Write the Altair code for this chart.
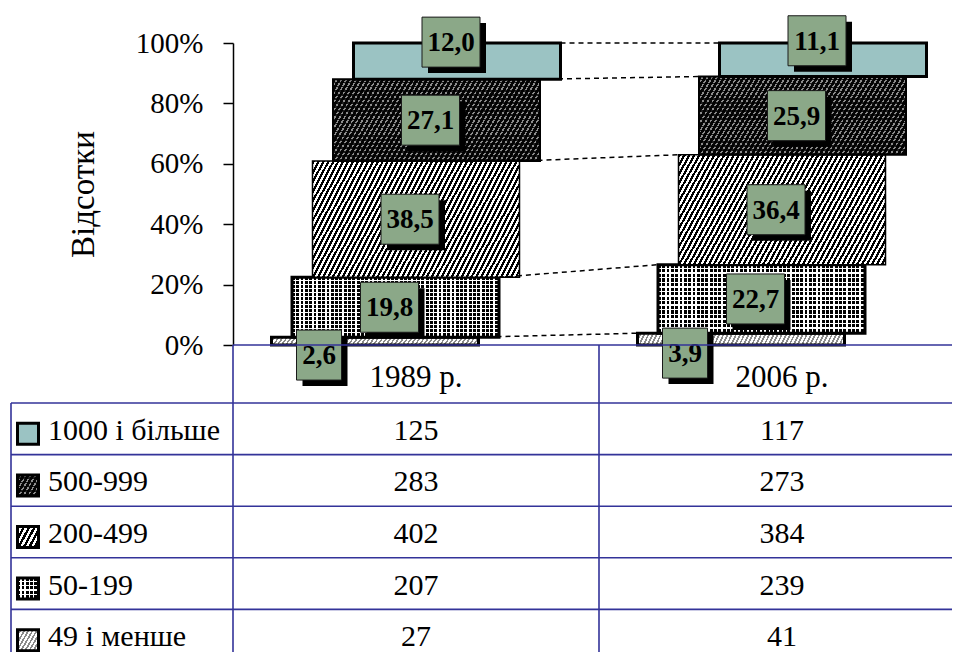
import math
import altair as alt
import pandas as pd

# ---------------- data ----------------
years = ["1989 р.", "2006 р."]
# stacking order: bottom -> top
categories = ["49 і менше", "50-199", "200-499", "500-999", "1000 і більше"]
pct_1989 = [2.6, 19.8, 38.5, 27.1, 12.0]
pct_2006 = [3.9, 22.7, 36.4, 25.9, 11.1]
count_1989 = [27, 207, 402, 283, 125]
count_2006 = [41, 239, 384, 273, 117]
y_ticks = [0, 20, 40, 60, 80, 100]
y_title = "Відсотки"

# ---------------- layout / style constants ----------------
PAD_LEFT = 225
PLOT_W = 944 - PAD_LEFT
PLOT_H = 644
COL_PX = 366                       # pixels per year column
Y0_PX, Y100_PX = 337, 35           # 0% and 100% inside the plot
PX_PER_PCT = (Y0_PX - Y100_PX) / 100
TABLE_TOP = 395
ROW_H = 51.6
SHIFT = 20.5 / COL_PX              # pseudo-3D shift of each stacked segment
HALF = 103.5 / COL_PX              # half bar width
TABLE_LEFT = -0.5 - 222 / COL_PX
HEADER_TOP = (Y0_PX - TABLE_TOP) / ROW_H
FONT = "Liberation Serif"
LINE_BLUE = "#333399"
LABEL_GREEN = "#8BA888"

XS = alt.Scale(domain=[-0.5, 1.5], range=[0, 2 * COL_PX], nice=False, zero=False)
YS = alt.Scale(domain=[0, 100], range=[Y0_PX, Y100_PX], nice=False, zero=False)
TS = alt.Scale(domain=[0, 5], range=[TABLE_TOP, TABLE_TOP + 5 * ROW_H], nice=False, zero=False)


def stripes(W, H, angle, period, bands):
    th = math.radians(angle)
    a = math.sin(th) / H
    b = math.cos(th) / W
    c = (a + b) / (a * a + b * b)
    L = W * math.sin(th) + H * math.cos(th)
    n = max(1, round(L / period))
    stops = []
    for k in range(n):
        acc = 0.0
        for color, frac in bands:
            s = (k + acc) / n
            e = (k + acc + frac) / n
            stops.append({"offset": round(s, 4), "color": color})
            stops.append({"offset": round(e, 4), "color": color})
            acc += frac
    return {"gradient": "linear", "x1": 0, "y1": 0,
            "x2": round(c * a, 5), "y2": round(c * b, 5), "stops": stops}


def pattern(cat, W, H):
    if cat == "1000 і більше":
        return ["#9BC3C3"]
    if cat == "500-999":
        return [stripes(W, H, 60, 4.2, [("#050505", 0.62), ("#8c8c8c", 0.38)]),
                stripes(W, H, 0, 4.0, [("rgba(0,0,0,0)", 0.6), ("rgba(0,0,0,0.8)", 0.4)])]
    if cat == "200-499":
        return [stripes(W, H, 62, 4.4, [("#000000", 0.5), ("#ffffff", 0.5)])]
    if cat == "50-199":
        return [stripes(W, H, 90, 4.3, [("#000000", 0.66), ("#ffffff", 0.34)]),
                stripes(W, H, 0, 4.3, [("rgba(255,255,255,0)", 0.7), ("#ffffff", 0.3)])]
    return [stripes(W, H, 60, 3.6, [("#ffffff", 0.55), ("#8a8a8a", 0.45)])]


STROKE_W = {"1000 і більше": 3, "500-999": 2, "200-499": 1.5, "50-199": 3, "49 і менше": 3}
LABEL_OFF = {"49 і менше": (-56, 14), "1000 і більше": (-6, -19)}
WIDE = "M-1.16,-1L1.16,-1L1.16,1L-1.16,1Z"
NARROW = "M-0.9,-1L0.9,-1L0.9,1L-0.9,1Z"

# ---------------- tables built from the arrays ----------------
pcts = [pct_1989, pct_2006]
counts = [count_1989, count_2006]
n = len(categories)
MID = (n - 1) / 2

seg_rows = []
for yi, yr in enumerate(years):
    base = 0.0
    for ci, cat in enumerate(categories):
        v = pcts[yi][ci]
        seg_rows.append({"year": yr, "yi": yi, "cat": cat, "ci": ci, "pct": v,
                         "y0": base, "y1": base + v})
        base += v
segs = pd.DataFrame(seg_rows)

conn = pd.DataFrame({
    "ci": list(range(n)),
    "ya": list(segs[segs.yi == 0].y1.values),
    "yb": list(segs[segs.yi == 1].y1.values),
})

trow = pd.DataFrame({"cat": categories[::-1], "r": list(range(n))})
cells = pd.DataFrame([{"r": r, "yi": yi, "val": counts[yi][n - 1 - r]}
                      for r in range(n) for yi in range(len(years))])
header = pd.DataFrame({"year": years, "yi": list(range(len(years)))})

col_bounds = [k - 0.5 for k in range(len(years) + 1)]
right_edge = col_bounds[-1]
hl = pd.DataFrame({"r": [HEADER_TOP] + list(range(n + 1)),
                   "x0": [col_bounds[0]] + [TABLE_LEFT] * (n + 1)})
hl["x1"] = right_edge
vl = pd.DataFrame({"xv": [TABLE_LEFT] + col_bounds,
                   "ytop": [0.0] + [HEADER_TOP] * len(col_bounds)})
vl["ybot"] = n + 0.6

# ---------------- layers ----------------
layers = []

bar_base = alt.Chart(segs).transform_calculate(
    xc=f"datum.yi + (datum.ci - {MID}) * {SHIFT}"
).transform_calculate(
    xl=f"datum.xc - {HALF}",
    xr=f"datum.xc + {HALF}",
    mid="(datum.y0 + datum.y1) / 2",
    lab="replace(format(datum.pct, '.1f'), '.', ',')",
)

axis = alt.Axis(values=y_ticks, labelExpr="datum.value + '%'", grid=False,
                domainColor="black", domainWidth=1.5, tickColor="black", tickWidth=1.5,
                tickSize=10, labelPadding=20, labelFont=FONT, labelFontSize=29,
                labelColor="black", titleFont=FONT, titleFontSize=33,
                titleFontWeight="normal", titleColor="black", titlePadding=35)

first = True
for ci, cat in enumerate(categories):
    sub = bar_base.transform_filter(alt.datum.cat == cat)
    hpx = (pct_1989[ci] + pct_2006[ci]) / 2 * PX_PER_PCT
    for f in pattern(cat, 2 * HALF * COL_PX, hpx):
        yenc = alt.Y("y0:Q", scale=YS, axis=axis if first else None,
                     title=y_title if first else None)
        first = False
        layers.append(sub.mark_rect(fill=f, strokeWidth=0).encode(
            x=alt.X("xl:Q", scale=XS, axis=None), x2="xr:Q", y=yenc, y2="y1:Q"))
    layers.append(sub.mark_rect(fill="transparent", stroke="black",
                                strokeWidth=STROKE_W[cat]).encode(
        x=alt.X("xl:Q", scale=XS, axis=None), x2="xr:Q",
        y=alt.Y("y0:Q", scale=YS, axis=None), y2="y1:Q"))

# dashed series lines
layers.append(alt.Chart(conn).transform_calculate(
    xa=f"(datum.ci - {MID}) * {SHIFT} + {HALF}",
    xb=f"1 + (datum.ci - {MID}) * {SHIFT} - {HALF}",
).mark_rule(color="black", strokeWidth=1.5, strokeDash=[5, 4]).encode(
    x=alt.X("xa:Q", scale=XS, axis=None), x2="xb:Q",
    y=alt.Y("ya:Q", scale=YS, axis=None), y2="yb:Q"))

# data labels
shape = alt.condition("length(datum.lab) > 3", alt.value(WIDE), alt.value(NARROW))
for cat in categories:
    dx, dy = LABEL_OFF.get(cat, (-6, 0))
    sub = bar_base.transform_filter(alt.datum.cat == cat)
    enc = dict(x=alt.X("xc:Q", scale=XS, axis=None), y=alt.Y("mid:Q", scale=YS, axis=None))
    layers.append(sub.mark_point(filled=True, fill="black", strokeWidth=0, opacity=1,
                                 size=2500, xOffset=dx + 6, yOffset=dy + 6).encode(shape=shape, **enc))
    layers.append(sub.mark_point(filled=True, fill=LABEL_GREEN, stroke="#1a1a1a", strokeWidth=1,
                                 opacity=1, size=2500, xOffset=dx, yOffset=dy).encode(shape=shape, **enc))
    layers.append(sub.mark_text(font=FONT, fontSize=27, fontWeight="bold", color="black",
                                align="center", baseline="middle", dx=dx, dy=dy + 1).encode(
        text="lab:N", **enc))

# table grid
layers.append(alt.Chart(hl).mark_rule(color=LINE_BLUE, strokeWidth=1.6).encode(
    x=alt.X("x0:Q", scale=XS, axis=None), x2="x1:Q",
    y=alt.Y("r:Q", scale=TS, axis=None)))
layers.append(alt.Chart(vl).mark_rule(color=LINE_BLUE, strokeWidth=1.6).encode(
    x=alt.X("xv:Q", scale=XS, axis=None),
    y=alt.Y("ytop:Q", scale=TS, axis=None), y2="ybot:Q"))

# header
layers.append(alt.Chart(header).transform_calculate(yc=f"{HEADER_TOP} / 2").mark_text(
    font=FONT, fontSize=31, color="black", align="center", baseline="middle", dy=4).encode(
    x=alt.X("yi:Q", scale=XS, axis=None), y=alt.Y("yc:Q", scale=TS, axis=None), text="year:N"))

# counts
layers.append(alt.Chart(cells).transform_calculate(yc="datum.r + 0.5").mark_text(
    font=FONT, fontSize=30, color="black", align="center", baseline="middle", dy=2).encode(
    x=alt.X("yi:Q", scale=XS, axis=None), y=alt.Y("yc:Q", scale=TS, axis=None), text="val:Q"))

# row names
sw_base = alt.Chart(trow).transform_calculate(xl=f"{TABLE_LEFT}", yc="datum.r + 0.5")
layers.append(sw_base.mark_text(font=FONT, fontSize=30, color="black", align="left",
                                baseline="middle", dx=37, dy=2).encode(
    x=alt.X("xl:Q", scale=XS, axis=None), y=alt.Y("yc:Q", scale=TS, axis=None), text="cat:N"))

# swatches
for cat in categories:
    sub = sw_base.transform_filter(alt.datum.cat == cat)
    enc = dict(x=alt.X("xl:Q", scale=XS, axis=None), y=alt.Y("yc:Q", scale=TS, axis=None))
    for f in pattern(cat, 21, 21):
        layers.append(sub.mark_point(shape="square", size=441, filled=True, fill=f,
                                     strokeWidth=0, opacity=1, xOffset=17, yOffset=5).encode(**enc))
    layers.append(sub.mark_point(shape="square", size=441, filled=False, stroke="black",
                                 strokeWidth=3, opacity=1, xOffset=17, yOffset=5).encode(**enc))

chart = alt.layer(*layers).resolve_scale(y="independent").properties(
    width=PLOT_W, height=PLOT_H,
    padding={"left": PAD_LEFT, "right": 0, "top": 0, "bottom": 0},
    autosize=alt.AutoSizeParams(type="none"),
).configure_view(stroke=None)

chart.save("out.html", embed_options={"renderer": "svg", "actions": False})
